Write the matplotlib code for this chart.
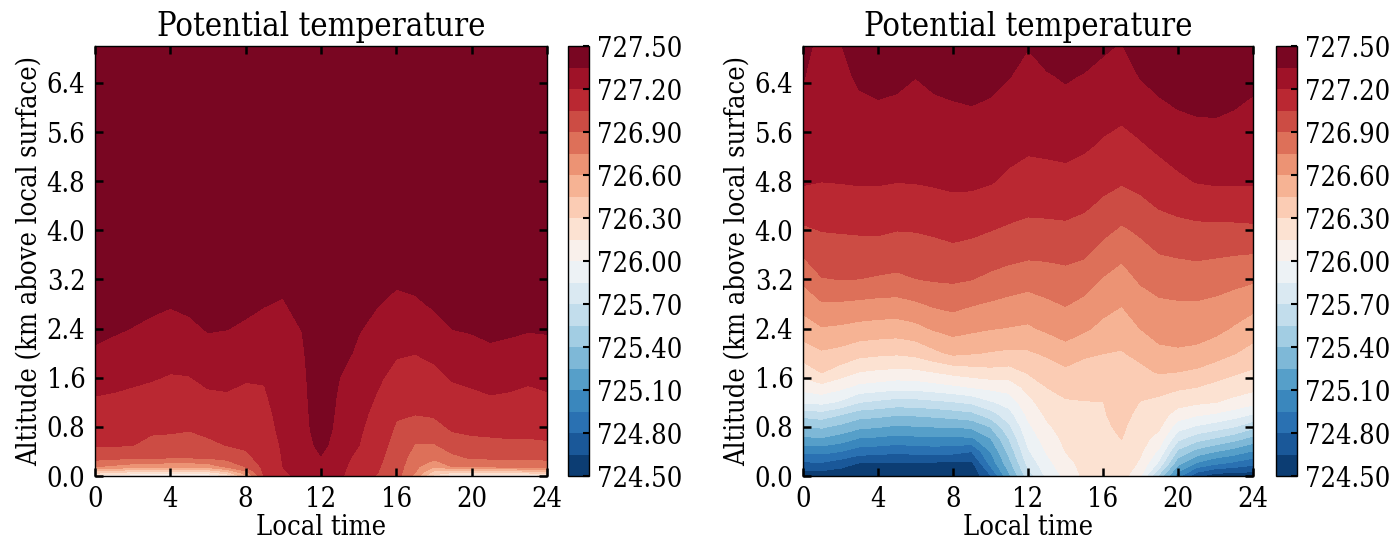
import numpy as np
import matplotlib.pyplot as plt

plt.rcParams['font.family'] = 'DejaVu Serif'
plt.rcParams['font.stretch'] = 'condensed'
plt.rcParams['font.size'] = 19.5
plt.rcParams['axes.linewidth'] = 1.0

# local time of each profile (hours)
local_time = [0, 1, 2, 3, 4, 5, 6, 7, 8, 9, 10, 11, 12,
              13, 14, 15, 16, 17, 18, 19, 20, 21, 22, 23, 24]

# altitude levels (km above local surface) of each run
alt_left = [0.0, 0.06, 0.15, 0.3, 0.5, 0.75, 1.0, 1.3, 1.6, 2.0, 2.4, 2.8, 3.2, 3.6, 7.0]
alt_right = [0.0, 0.2, 0.4, 0.6, 0.8, 1.0, 1.2, 1.45, 1.7, 2.0, 2.4, 2.8,
             3.2, 3.6, 4.0, 4.4, 4.8, 5.4, 6.0, 6.5, 7.0]

# potential temperature (K), one row per local time, one column per altitude
theta_left = [
    [726.10, 726.36, 726.75, 726.96, 727.06, 727.11, 727.15, 727.20, 727.26, 727.33, 727.39, 727.44, 727.45, 727.45, 727.45],
    [726.05, 726.31, 726.71, 726.94, 727.06, 727.10, 727.14, 727.19, 727.24, 727.30, 727.37, 727.42, 727.45, 727.45, 727.45],
    [726.00, 726.26, 726.66, 726.93, 727.052, 727.09, 727.13, 727.18, 727.22, 727.29, 727.346, 727.40, 727.45, 727.45, 727.45],
    [725.98, 726.25, 726.66, 726.92, 727.01, 727.07, 727.11, 727.16, 727.21, 727.26, 727.32, 727.38, 727.43, 727.45, 727.45],
    [725.97, 726.23, 726.62, 726.91, 726.99, 727.07, 727.10, 727.15, 727.19, 727.25, 727.30, 727.36, 727.41, 727.45, 727.45],
    [725.97, 726.23, 726.62, 726.91, 726.98, 727.055, 727.10, 727.15, 727.195, 727.26, 727.32, 727.38, 727.43, 727.45, 727.45],
    [726.002, 726.26, 726.66, 726.92, 727.02, 727.08, 727.13, 727.18, 727.23, 727.30, 727.36, 727.41, 727.45, 727.45, 727.45],
    [726.148, 726.41, 726.77, 726.95, 727.053, 727.09, 727.14, 727.19, 727.23, 727.29, 727.353, 727.40, 727.45, 727.45, 727.45],
    [726.55, 726.70, 726.902, 727.02, 727.07, 727.10, 727.14, 727.17, 727.21, 727.27, 727.33, 727.38, 727.43, 727.45, 727.45],
    [727.08, 727.085, 727.09, 727.10, 727.12, 727.14, 727.16, 727.185, 727.21, 727.26, 727.31, 727.355, 727.40, 727.45, 727.45],
    [727.17, 727.185, 727.202, 727.21, 727.22, 727.24, 727.25, 727.27, 727.28, 727.30, 727.32, 727.34, 727.38, 727.43, 727.45],
    [727.24, 727.243, 727.247, 727.254, 727.263, 727.275, 727.286, 727.302, 727.314, 727.332, 727.353, 727.40, 727.45, 727.45, 727.45],
    [727.302, 727.31, 727.32, 727.34, 727.40, 727.45, 727.46, 727.46, 727.46, 727.46, 727.46, 727.46, 727.46, 727.46, 727.46],
    [727.22, 727.225, 727.232, 727.244, 727.26, 727.28, 727.302, 727.324, 727.348, 727.398, 727.447, 727.45, 727.45, 727.45, 727.45],
    [727.12, 727.13, 727.145, 727.17, 727.202, 727.222, 727.242, 727.267, 727.291, 727.324, 727.36, 727.41, 727.45, 727.45, 727.45],
    [727.04, 727.053, 727.063, 727.08, 727.10, 727.129, 727.156, 727.19, 727.222, 727.266, 727.31, 727.355, 727.405, 727.45, 727.45],
    [726.96, 726.966, 726.975, 726.99, 727.008, 727.033, 727.061, 727.108, 727.155, 727.214, 727.266, 727.319, 727.37, 727.42, 727.45],
    [726.70, 726.759, 726.786, 726.831, 726.891, 726.972, 727.051, 727.096, 727.141, 727.202, 727.265, 727.33, 727.385, 727.435, 727.45],
    [726.25, 726.393, 726.607, 726.792, 726.886, 726.987, 727.065, 727.114, 727.162, 727.23, 727.302, 727.366, 727.416, 727.45, 727.45],
    [726.02, 726.312, 726.752, 726.868, 726.969, 727.061, 727.105, 727.159, 727.212, 727.281, 727.352, 727.40, 727.45, 727.45, 727.45],
    [725.98, 726.31, 726.763, 726.917, 727.003, 727.076, 727.121, 727.176, 727.23, 727.299, 727.364, 727.414, 727.45, 727.45, 727.45],
    [725.98, 726.31, 726.765, 726.926, 727.011, 727.083, 727.134, 727.196, 727.251, 727.324, 727.383, 727.433, 727.45, 727.45, 727.45],
    [726.002, 726.321, 726.767, 726.932, 727.023, 727.085, 727.131, 727.187, 727.241, 727.311, 727.373, 727.423, 727.45, 727.45, 727.45],
    [726.02, 726.357, 726.783, 726.935, 727.024, 727.081, 727.122, 727.171, 727.221, 727.293, 727.36, 727.41, 727.45, 727.45, 727.45],
    [726.10, 726.40, 726.788, 726.941, 727.032, 727.088, 727.133, 727.187, 727.238, 727.303, 727.364, 727.414, 727.45, 727.45, 727.45],
]

theta_right = [
    [724.55, 724.765, 724.985, 725.207, 725.402, 725.595, 725.868, 726.056, 726.213, 726.375, 726.523, 726.655, 726.779, 726.909, 727.024, 727.136, 727.214, 727.263, 727.313, 727.358, 727.40],
    [724.55, 724.775, 724.996, 725.227, 725.419, 725.632, 725.888, 726.103, 726.312, 726.43, 726.588, 726.735, 726.892, 726.975, 727.054, 727.131, 727.202, 727.237, 727.262, 727.28, 727.30],
    [724.54, 724.713, 724.952, 725.169, 725.358, 725.552, 725.825, 726.038, 726.233, 726.403, 726.575, 726.731, 726.902, 726.98, 727.06, 727.14, 727.206, 727.243, 727.279, 727.31, 727.34],
    [724.53, 724.634, 724.875, 725.08, 725.283, 725.464, 725.702, 725.958, 726.152, 726.35, 726.55, 726.717, 726.898, 726.983, 727.066, 727.147, 727.212, 727.266, 727.319, 727.373, 727.45],
    [724.52, 724.624, 724.858, 725.063, 725.259, 725.443, 725.665, 725.934, 726.129, 726.331, 726.538, 726.704, 726.882, 726.982, 727.069, 727.146, 727.212, 727.272, 727.333, 727.398, 727.47],
    [724.52, 724.62, 724.835, 725.038, 725.222, 725.411, 725.631, 725.904, 726.114, 726.319, 726.529, 726.699, 726.87, 726.968, 727.052, 727.129, 727.204, 727.263, 727.322, 727.384, 727.46],
    [724.52, 724.62, 724.854, 725.053, 725.241, 725.42, 725.638, 725.91, 726.12, 726.343, 726.557, 726.729, 726.896, 726.977, 727.056, 727.136, 727.207, 727.257, 727.308, 727.352, 727.43],
    [724.52, 724.616, 724.864, 725.063, 725.252, 725.44, 725.663, 725.94, 726.158, 726.415, 726.616, 726.773, 726.912, 726.991, 727.071, 727.153, 727.215, 727.27, 727.325, 727.381, 727.45],
    [724.52, 724.61, 724.85, 725.063, 725.252, 725.469, 725.689, 725.972, 726.203, 726.48, 726.656, 726.794, 726.92, 727.008, 727.091, 727.17, 727.223, 727.28, 727.336, 727.399, 727.47],
    [724.54, 724.609, 724.802, 725.065, 725.28, 725.50, 725.73, 726.009, 726.234, 726.459, 726.629, 726.76, 726.902, 726.99, 727.078, 727.164, 727.223, 727.285, 727.346, 727.412, 727.48],
    [724.78, 724.993, 725.102, 725.236, 725.402, 725.625, 725.831, 726.042, 726.256, 726.439, 726.606, 726.734, 726.867, 726.964, 727.052, 727.136, 727.21, 727.27, 727.33, 727.391, 727.46],
    [725.22, 725.344, 725.45, 725.552, 725.67, 725.79, 725.91, 726.065, 726.245, 726.423, 726.592, 726.708, 726.833, 726.943, 727.029, 727.103, 727.174, 727.244, 727.303, 727.353, 727.44],
    [725.62, 725.743, 725.829, 725.90, 725.967, 726.033, 726.10, 726.20, 726.319, 726.431, 726.578, 726.689, 726.805, 726.924, 727.009, 727.084, 727.148, 727.223, 727.272, 727.313, 727.355],
    [725.88, 725.949, 726.014, 726.068, 726.123, 726.177, 726.232, 726.302, 726.375, 726.471, 726.625, 726.725, 726.828, 726.926, 727.013, 727.088, 727.153, 727.23, 727.288, 727.336, 727.41],
    [726.04, 726.095, 726.152, 726.184, 726.217, 726.251, 726.285, 726.346, 726.418, 726.539, 726.664, 726.759, 726.849, 726.936, 727.02, 727.093, 727.16, 727.239, 727.304, 727.364, 727.45],
    [726.18, 726.199, 726.218, 726.238, 726.257, 726.276, 726.295, 726.343, 726.396, 726.471, 726.623, 726.715, 726.816, 726.916, 726.995, 727.07, 727.135, 727.221, 727.286, 727.339, 727.42],
    [726.24, 726.25, 726.26, 726.27, 726.28, 726.29, 726.298, 726.346, 726.393, 726.452, 726.559, 726.654, 726.739, 726.839, 726.935, 727.022, 727.092, 727.185, 727.256, 727.311, 727.37],
    [726.22, 726.247, 726.274, 726.301, 726.321, 726.341, 726.361, 726.385, 726.41, 726.44, 726.518, 726.608, 726.69, 726.778, 726.878, 726.975, 727.064, 727.159, 727.236, 727.288, 727.34],
    [726.01, 726.122, 726.173, 726.203, 726.233, 726.264, 726.294, 726.352, 726.413, 726.491, 726.602, 726.686, 726.769, 726.844, 726.923, 727.015, 727.091, 727.189, 727.28, 727.356, 727.45],
    [725.50, 725.806, 725.963, 726.09, 726.173, 726.219, 726.265, 726.35, 726.467, 726.567, 726.655, 726.728, 726.81, 726.896, 726.98, 727.062, 727.131, 727.231, 727.324, 727.398, 727.47],
    [725.00, 725.285, 725.515, 725.73, 725.917, 726.083, 726.206, 726.325, 726.452, 726.579, 726.664, 726.737, 726.823, 726.911, 727.001, 727.088, 727.173, 727.268, 727.355, 727.412, 727.47],
    [724.68, 725.07, 725.345, 725.60, 725.829, 726.018, 726.175, 726.302, 726.425, 726.564, 726.662, 726.738, 726.83, 726.922, 727.012, 727.109, 727.207, 727.291, 727.368, 727.419, 727.47],
    [724.56, 724.965, 725.252, 725.523, 725.769, 725.98, 726.152, 726.257, 726.375, 726.514, 726.64, 726.72, 726.813, 726.913, 727.013, 727.122, 727.217, 727.297, 727.37, 727.42, 727.47],
    [724.55, 724.905, 725.182, 725.441, 725.702, 725.92, 726.106, 726.225, 726.323, 726.456, 726.584, 726.688, 726.791, 726.902, 727.011, 727.126, 727.217, 727.286, 727.354, 727.407, 727.46],
    [724.55, 724.838, 725.088, 725.338, 725.588, 725.838, 726.044, 726.195, 726.283, 726.394, 726.525, 726.646, 726.769, 726.894, 727.016, 727.134, 727.216, 727.272, 727.328, 727.385, 727.45],
]

cbar_ticks = [724.5, 724.8, 725.1, 725.4, 725.7, 726.0, 726.3, 726.6, 726.9, 727.2, 727.5]
alt_ticks = [0.0, 0.8, 1.6, 2.4, 3.2, 4.0, 4.8, 5.6, 6.4]
time_ticks = [0, 4, 8, 12, 16, 20, 24]

levels = np.linspace(724.5, 727.5, 21)


def draw_panel(ax, cax, alt, theta):
    cs = ax.contourf(local_time, alt, np.array(theta).T, levels=levels, cmap='RdBu_r')
    ax.set_xlim(0, 24)
    ax.set_ylim(0, 7.0)
    ax.set_xticks(time_ticks)
    ax.set_yticks(alt_ticks)
    ax.set_yticklabels(['%.1f' % a for a in alt_ticks])
    ax.tick_params(direction='in', top=True, right=True, length=6, width=1.8, pad=7)
    ax.set_title('Potential temperature', fontsize=23.5, pad=7)
    ax.set_xlabel('Local time', labelpad=1)
    ax.set_ylabel('Altitude (km above local surface)', labelpad=3)

    cb = plt.colorbar(cs, cax=cax, ticks=cbar_ticks, format='%.2f')
    cb.outline.set_linewidth(1.0)
    cb.ax.tick_params(direction='in', length=4, width=1.5, pad=6)
    return cs


fig = plt.figure(figsize=(13.97, 5.41), dpi=100)

ax1 = fig.add_axes([0.0680, 0.1201, 0.3235, 0.7948])
cax1 = fig.add_axes([0.4066, 0.1201, 0.0150, 0.7948])
ax2 = fig.add_axes([0.5748, 0.1201, 0.3221, 0.7948])
cax2 = fig.add_axes([0.9134, 0.1201, 0.0150, 0.7948])

draw_panel(ax1, cax1, alt_left, theta_left)
draw_panel(ax2, cax2, alt_right, theta_right)

fig.savefig('out.png', dpi=100)
